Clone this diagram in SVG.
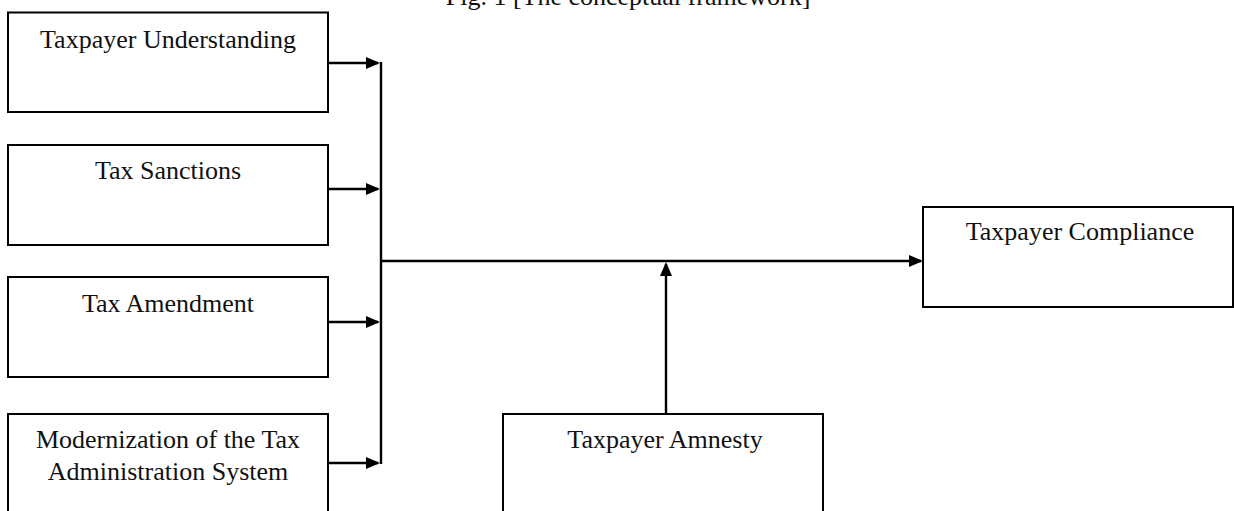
<svg xmlns="http://www.w3.org/2000/svg" width="1234" height="511" viewBox="0 0 1234 511">
  <style>
    .box { fill: #ffffff; stroke: #000000; stroke-width: 2; }
    .lbl { font-family: "Liberation Serif", "Times New Roman", serif; font-size: 26px; fill: #111111; text-anchor: middle; }
    .conn { fill: none; stroke: #000000; stroke-width: 2.4; }
  </style>
  <defs>
    <marker id="arr" viewBox="0 0 14 12" markerWidth="14" markerHeight="12" refX="12" refY="6" orient="auto" markerUnits="userSpaceOnUse">
      <path d="M0,0 L14,6 L0,12 z" fill="#000000"/>
    </marker>
  </defs>
  <rect width="1234" height="511" fill="#ffffff"/>

  <text class="lbl" x="628" y="5">Fig. 1 [The conceptual framework]</text>

  <g id="n-understanding">
    <rect class="box" x="8" y="12.5" width="320" height="99.5"/>
    <text class="lbl" x="168" y="48">Taxpayer Understanding</text>
  </g>
  <g id="n-sanctions">
    <rect class="box" x="8" y="145" width="320" height="100"/>
    <text class="lbl" x="168" y="179">Tax Sanctions</text>
  </g>
  <g id="n-amendment">
    <rect class="box" x="8" y="277" width="320" height="100"/>
    <text class="lbl" x="168" y="312">Tax Amendment</text>
  </g>
  <g id="n-modernization">
    <rect class="box" x="8" y="414" width="320" height="110"/>
    <text class="lbl" x="168" y="448">Modernization of the Tax</text>
    <text class="lbl" x="168" y="480">Administration System</text>
  </g>
  <g id="n-compliance">
    <rect class="box" x="923" y="207" width="310" height="100"/>
    <text class="lbl" x="1080" y="240">Taxpayer Compliance</text>
  </g>
  <g id="n-amnesty">
    <rect class="box" x="503" y="414" width="320" height="110"/>
    <text class="lbl" x="665" y="448">Taxpayer Amnesty</text>
  </g>

  <g id="connectors">
    <line class="conn" x1="328" y1="63" x2="378" y2="63" marker-end="url(#arr)"/>
    <line class="conn" x1="328" y1="189" x2="378" y2="189" marker-end="url(#arr)"/>
    <line class="conn" x1="328" y1="322" x2="378" y2="322" marker-end="url(#arr)"/>
    <line class="conn" x1="328" y1="463" x2="378" y2="463" marker-end="url(#arr)"/>
    <line class="conn" x1="381" y1="62" x2="381" y2="464"/>
    <line class="conn" x1="380" y1="261" x2="921" y2="261" marker-end="url(#arr)"/>
    <line class="conn" x1="666" y1="414" x2="666" y2="264" marker-end="url(#arr)"/>
  </g>
</svg>
